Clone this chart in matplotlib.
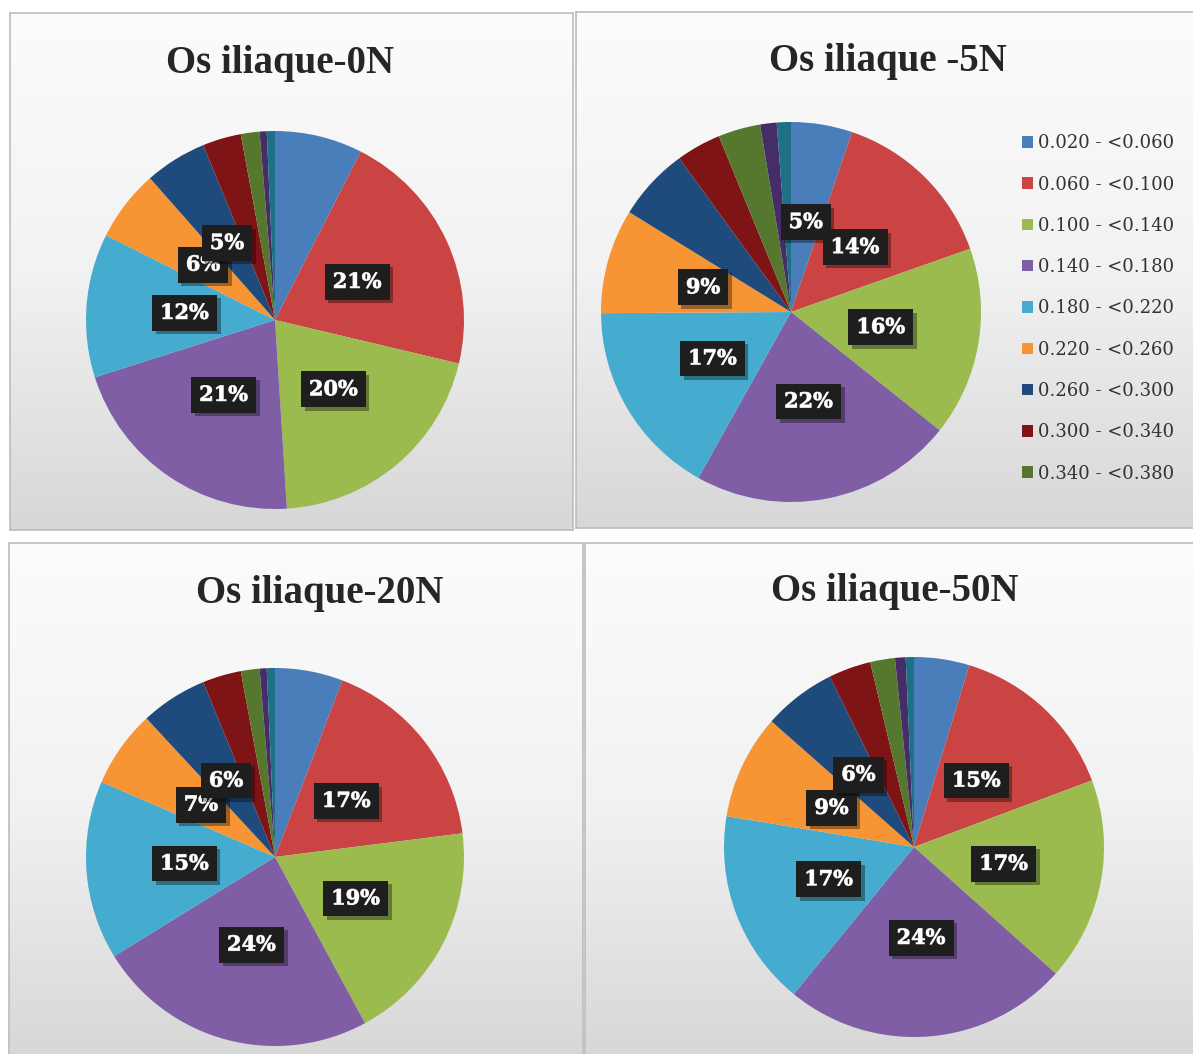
import numpy as np
import matplotlib
matplotlib.use("Agg")
import matplotlib.pyplot as plt
import matplotlib.patheffects as pe
from matplotlib.colors import LinearSegmentedColormap

W, H, DPI = 1193, 1054, 100

# Size classes (the last two are not listed in the legend)
categories = ["0.020 - <0.060", "0.060 - <0.100", "0.100 - <0.140",
              "0.140 - <0.180", "0.180 - <0.220", "0.220 - <0.260",
              "0.260 - <0.300", "0.300 - <0.340", "0.340 - <0.380",
              "0.380 - <0.420", "0.420 - <0.460"]

colors = ["#4a7ebb", "#c94442", "#9bbb4f", "#7f5ea6", "#45acd0", "#f79433",
          "#1f4b7c", "#7e1416", "#56782e", "#452d67", "#1d7085"]

# Share of each class (%) per load case
os_0N = [7.5, 21.2, 20.3, 21.1, 12.3, 6.1, 5.3, 3.3, 1.6, 0.6, 0.7]
os_5N = [5.2, 14.4, 16.1, 22.4, 16.8, 8.9, 6.2, 3.8, 3.6, 1.4, 1.2]
os_20N = [5.8, 17.2, 19.1, 24.1, 15.3, 6.6, 5.7, 3.3, 1.6, 0.6, 0.7]
os_50N = [4.7, 14.6, 17.3, 24.3, 16.7, 8.9, 6.2, 3.6, 2.1, 0.9, 0.7]

titles = ["Os iliaque-0N", "Os iliaque -5N", "Os iliaque-20N", "Os iliaque-50N"]
series = [os_0N, os_5N, os_20N, os_50N]
# slices that carry a percentage label
labeled = [[1, 2, 3, 4, 5, 6], [0, 1, 2, 3, 4, 5],
           [1, 2, 3, 4, 5, 6], [1, 2, 3, 4, 5, 6]]

# panel frames (px, left, top, right, bottom), pie centre/radius, title centre
panels = [(10, 13, 573, 530), (576, 12, 1196, 528),
          (9, 543, 583, 1060), (585, 543, 1196, 1060)]
pies = [(275, 320, 189), (791, 312, 190), (275, 857, 189), (914, 847, 190)]
title_pos = [(280, 64), (888, 62), (320, 594), (895, 592)]

TITLE_FONT = ["Liberation Serif", "DejaVu Serif"]
TEXT_FONT = ["DejaVu Serif"]

fig = plt.figure(figsize=(W / DPI, H / DPI), dpi=DPI)
fig.patch.set_facecolor("white")

bg_cmap = LinearSegmentedColormap.from_list("bg", ["#fcfcfc", "#f2f2f2", "#d7d7d7"])


def px_axes(x0, y0, x1, y1, **kw):
    return fig.add_axes([x0 / W, 1 - y1 / H, (x1 - x0) / W, (y1 - y0) / H], **kw)


for (x0, y0, x1, y1) in panels:
    bg = px_axes(x0, y0, x1, y1, zorder=0)
    grad = np.linspace(0, 1, 256)[:, None]
    bg.imshow(grad, cmap=bg_cmap, aspect="auto", extent=[0, 1, 0, 1], origin="upper")
    bg.set_xticks([])
    bg.set_yticks([])
    for s in bg.spines.values():
        s.set_color("#bcbcbc")
        s.set_linewidth(1.2)

legend_wedges = None
for i, (vals, title) in enumerate(zip(series, titles)):
    cx, cy, r = pies[i]
    ax = px_axes(cx - r, cy - r, cx + r, cy + r, zorder=2)
    ax.patch.set_alpha(0)
    wedges, _ = ax.pie(vals, colors=colors, startangle=90, counterclock=False,
                       radius=1.0, wedgeprops=dict(linewidth=0))
    ax.set_xlim(-1, 1)
    ax.set_ylim(-1, 1)
    ax.set_aspect("equal")
    ax.axis("off")
    total = sum(vals)
    for k in labeled[i]:
        w = wedges[k]
        th = np.deg2rad((w.theta1 + w.theta2) / 2)
        pct = round(vals[k] / total * 100)
        t = ax.text(0.48 * np.cos(th), 0.48 * np.sin(th), f"{pct}%",
                    ha="center", va="center", color="white", fontsize=15,
                    fontweight="bold", family=TEXT_FONT, zorder=5 + k,
                    bbox=dict(boxstyle="square,pad=0.38", fc="#1e1e1e", ec="none"),
                    path_effects=[pe.withStroke(linewidth=0.6, foreground="#cccccc")])
        t.get_bbox_patch().set_path_effects(
            [pe.SimplePatchShadow(offset=(2.5, -2.5), shadow_rgbFace="#000000", alpha=0.35),
             pe.Normal()])
    tx, ty = title_pos[i]
    fig.text(tx / W, 1 - ty / H, title, ha="center", va="center",
             fontsize=28, fontweight="bold", family=TITLE_FONT, color="#262626")
    if i == 1:
        legend_wedges = (ax, wedges)

ax2, wedges2 = legend_wedges
leg = ax2.legend(wedges2[:9], categories[:9], loc="upper left",
                 bbox_to_anchor=(1006 / W, 1 - 118 / H),
                 bbox_transform=fig.transFigure, frameon=False,
                 handlelength=0.6, handleheight=0.6, handletextpad=0.25,
                 labelspacing=1.29, prop=dict(family=TEXT_FONT, size=13))
for t in leg.get_texts():
    t.set_color("#333333")

fig.savefig("out.png", dpi=DPI)
